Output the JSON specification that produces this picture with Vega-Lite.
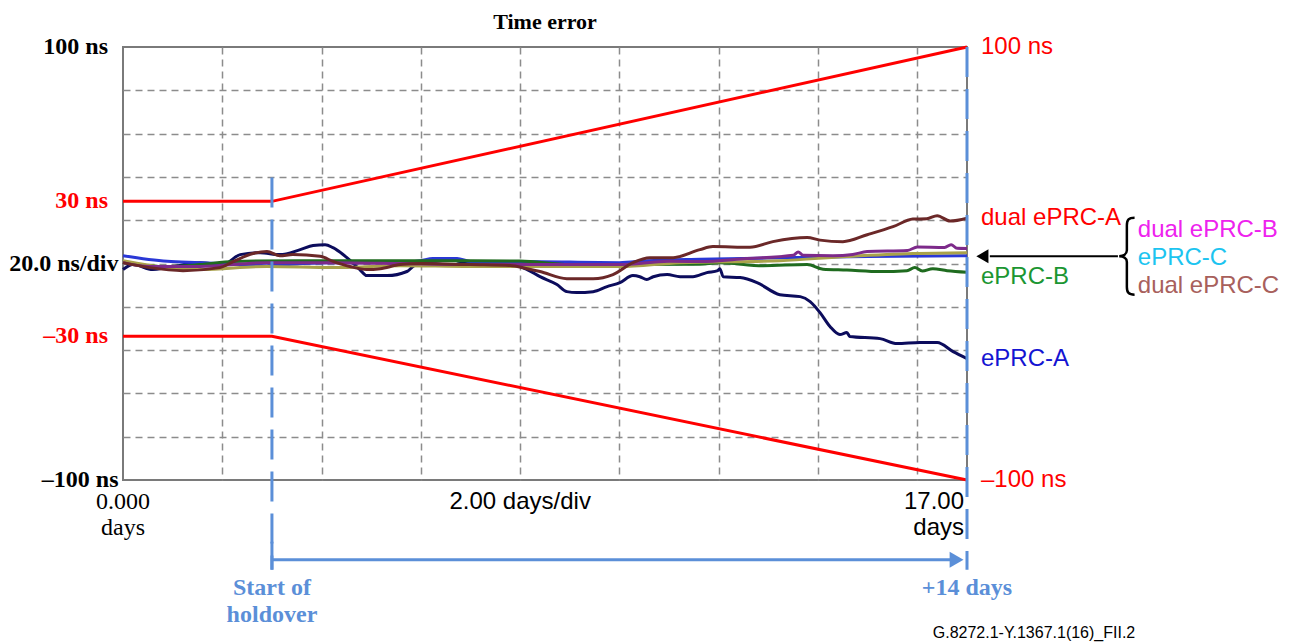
{
  "$schema": "https://vega.github.io/schema/vega-lite/v6.json",
  "width": 844,
  "height": 433,
  "autosize": {"type": "none"},
  "padding": {"left": 123, "top": 47, "right": 323, "bottom": 164},
  "background": "white",
  "title": {"text": "Time error", "font": "Liberation Serif", "fontSize": 22, "fontWeight": "bold", "color": "#000000", "offset": 1, "anchor": "middle"},
  "config": {
    "view": {"stroke": "#7a7a7a", "strokeWidth": 2},
    "text": {"font": "Liberation Sans", "fontSize": 24}
  },
  "encoding": {
    "x": {"field": "t", "type": "quantitative", "scale": {"domain": [0, 17], "nice": false, "zero": false},
      "axis": {"values": [2, 4, 6, 8, 10, 12, 14, 16], "grid": true, "labels": false, "ticks": false, "domain": false, "title": null, "gridDash": [7, 5], "gridColor": "#8c8c8c", "gridWidth": 1.5}},
    "y": {"field": "v", "type": "quantitative", "scale": {"domain": [-100, 100], "nice": false, "zero": false},
      "axis": {"values": [-80, -60, -40, -20, 0, 20, 40, 60, 80], "grid": true, "labels": false, "ticks": false, "domain": false, "title": null, "gridDash": [7, 5], "gridColor": "#8c8c8c", "gridWidth": 1.5}}
  },
  "layer": [
    {
      "data": {"values": [
        {"bound": "upper", "t": 0, "v": 28.7}, {"bound": "upper", "t": 3, "v": 28.7}, {"bound": "upper", "t": 17, "v": 100},
        {"bound": "lower", "t": 0, "v": -33.6}, {"bound": "lower", "t": 3, "v": -33.6}, {"bound": "lower", "t": 17, "v": -100}
      ]},
      "mark": {"type": "line", "color": "#ff0000", "strokeWidth": 3},
      "encoding": {"detail": {"field": "bound"}}
    },
    {
      "data": {"values": [
        {"series": "ePRC-A", "t": 0, "v": -2.8}, {"series": "ePRC-A", "t": 0.2, "v": -0.5}, {"series": "ePRC-A", "t": 0.6, "v": -2.8}, {"series": "ePRC-A", "t": 0.89, "v": -1.9}, {"series": "ePRC-A", "t": 1.55, "v": 0.3}, {"series": "ePRC-A", "t": 2.01, "v": -0.5}, {"series": "ePRC-A", "t": 2.36, "v": 4.1}, {"series": "ePRC-A", "t": 2.76, "v": 5.0}, {"series": "ePRC-A", "t": 3.16, "v": 4.1}, {"series": "ePRC-A", "t": 3.57, "v": 6.4}, {"series": "ePRC-A", "t": 3.83, "v": 8.3}, {"series": "ePRC-A", "t": 4.07, "v": 8.7}, {"series": "ePRC-A", "t": 4.23, "v": 7.3}, {"series": "ePRC-A", "t": 4.51, "v": 2.7}, {"series": "ePRC-A", "t": 4.77, "v": -2.8}, {"series": "ePRC-A", "t": 4.91, "v": -5.6}, {"series": "ePRC-A", "t": 5.32, "v": -5.6}, {"series": "ePRC-A", "t": 5.72, "v": -3.7}, {"series": "ePRC-A", "t": 5.84, "v": -1.4}, {"series": "ePRC-A", "t": 5.98, "v": 0.4}, {"series": "ePRC-A", "t": 6.39, "v": 1.3}, {"series": "ePRC-A", "t": 6.59, "v": 2.3}, {"series": "ePRC-A", "t": 6.79, "v": 0.9}, {"series": "ePRC-A", "t": 7.33, "v": 0.4}, {"series": "ePRC-A", "t": 7.86, "v": -0.5}, {"series": "ePRC-A", "t": 8.14, "v": -2.8}, {"series": "ePRC-A", "t": 8.4, "v": -6.1}, {"series": "ePRC-A", "t": 8.74, "v": -9.7}, {"series": "ePRC-A", "t": 8.94, "v": -13.0}, {"series": "ePRC-A", "t": 9.14, "v": -13.4}, {"series": "ePRC-A", "t": 9.47, "v": -13.0}, {"series": "ePRC-A", "t": 9.75, "v": -10.7}, {"series": "ePRC-A", "t": 10.01, "v": -8.8}, {"series": "ePRC-A", "t": 10.27, "v": -5.6}, {"series": "ePRC-A", "t": 10.41, "v": -6.1}, {"series": "ePRC-A", "t": 10.55, "v": -7.4}, {"series": "ePRC-A", "t": 10.68, "v": -6.1}, {"series": "ePRC-A", "t": 10.96, "v": -5.1}, {"series": "ePRC-A", "t": 11.22, "v": -6.1}, {"series": "ePRC-A", "t": 11.48, "v": -6.1}, {"series": "ePRC-A", "t": 11.76, "v": -4.2}, {"series": "ePRC-A", "t": 11.98, "v": -3.3}, {"series": "ePRC-A", "t": 12.02, "v": -2.4}, {"series": "ePRC-A", "t": 12.09, "v": -6.1}, {"series": "ePRC-A", "t": 12.43, "v": -6.5}, {"series": "ePRC-A", "t": 12.77, "v": -8.8}, {"series": "ePRC-A", "t": 13.23, "v": -14.4}, {"series": "ePRC-A", "t": 13.64, "v": -15.3}, {"series": "ePRC-A", "t": 13.84, "v": -17.6}, {"series": "ePRC-A", "t": 14.04, "v": -22.7}, {"series": "ePRC-A", "t": 14.24, "v": -29.1}, {"series": "ePRC-A", "t": 14.44, "v": -32.8}, {"series": "ePRC-A", "t": 14.58, "v": -31.9}, {"series": "ePRC-A", "t": 14.64, "v": -33.7}, {"series": "ePRC-A", "t": 15.25, "v": -34.7}, {"series": "ePRC-A", "t": 15.59, "v": -37.0}, {"series": "ePRC-A", "t": 16.05, "v": -36.5}, {"series": "ePRC-A", "t": 16.4, "v": -36.5}, {"series": "ePRC-A", "t": 16.72, "v": -40.7}, {"series": "ePRC-A", "t": 17.0, "v": -43.9},

        {"series": "ePRC-C", "t": 0, "v": 3.6}, {"series": "ePRC-C", "t": 0.89, "v": 1.0}, {"series": "ePRC-C", "t": 1.55, "v": 0.4}, {"series": "ePRC-C", "t": 2.36, "v": -0.5}, {"series": "ePRC-C", "t": 2.9, "v": -1.0}, {"series": "ePRC-C", "t": 3.5, "v": -0.2}, {"series": "ePRC-C", "t": 4.2, "v": 0.4}, {"series": "ePRC-C", "t": 5.58, "v": 0.4}, {"series": "ePRC-C", "t": 6.0, "v": 1.3}, {"series": "ePRC-C", "t": 6.24, "v": 2.3}, {"series": "ePRC-C", "t": 6.73, "v": 2.3}, {"series": "ePRC-C", "t": 7.0, "v": 0.9}, {"series": "ePRC-C", "t": 8.0, "v": 0.9}, {"series": "ePRC-C", "t": 10.0, "v": 0.4}, {"series": "ePRC-C", "t": 10.55, "v": 1.3}, {"series": "ePRC-C", "t": 11.62, "v": 2.0}, {"series": "ePRC-C", "t": 13.0, "v": 2.5}, {"series": "ePRC-C", "t": 15.0, "v": 3.2}, {"series": "ePRC-C", "t": 17.0, "v": 3.6},

        {"series": "ePRC-B", "t": 0, "v": 0.4}, {"series": "ePRC-B", "t": 0.89, "v": -1.4}, {"series": "ePRC-B", "t": 1.55, "v": -0.5}, {"series": "ePRC-B", "t": 2.22, "v": 0.9}, {"series": "ePRC-B", "t": 3.57, "v": 1.3}, {"series": "ePRC-B", "t": 5.58, "v": 1.3}, {"series": "ePRC-B", "t": 7.0, "v": 1.3}, {"series": "ePRC-B", "t": 8.0, "v": 1.1}, {"series": "ePRC-B", "t": 9.0, "v": -0.5}, {"series": "ePRC-B", "t": 10.0, "v": -0.5}, {"series": "ePRC-B", "t": 11.6, "v": -0.3}, {"series": "ePRC-B", "t": 12.02, "v": 0.4}, {"series": "ePRC-B", "t": 12.89, "v": -1.0}, {"series": "ePRC-B", "t": 13.78, "v": -0.5}, {"series": "ePRC-B", "t": 14.1, "v": -2.6}, {"series": "ePRC-B", "t": 14.58, "v": -3.0}, {"series": "ePRC-B", "t": 15.25, "v": -3.7}, {"series": "ePRC-B", "t": 15.79, "v": -3.3}, {"series": "ePRC-B", "t": 15.95, "v": -1.9}, {"series": "ePRC-B", "t": 16.1, "v": -3.5}, {"series": "ePRC-B", "t": 16.31, "v": -2.4}, {"series": "ePRC-B", "t": 16.6, "v": -3.3}, {"series": "ePRC-B", "t": 17.0, "v": -4.0},

        {"series": "dual ePRC-C", "t": 0, "v": 1.3}, {"series": "dual ePRC-C", "t": 0.89, "v": -1.9}, {"series": "dual ePRC-C", "t": 1.55, "v": -2.8}, {"series": "dual ePRC-C", "t": 2.9, "v": -1.4}, {"series": "dual ePRC-C", "t": 4.23, "v": -1.9}, {"series": "dual ePRC-C", "t": 5.58, "v": -1.0}, {"series": "dual ePRC-C", "t": 7.0, "v": -1.4}, {"series": "dual ePRC-C", "t": 8.0, "v": -1.4}, {"series": "dual ePRC-C", "t": 10.0, "v": -1.4}, {"series": "dual ePRC-C", "t": 11.22, "v": 0.4}, {"series": "dual ePRC-C", "t": 13.23, "v": 1.3}, {"series": "dual ePRC-C", "t": 14.58, "v": 3.2}, {"series": "dual ePRC-C", "t": 15.91, "v": 4.6}, {"series": "dual ePRC-C", "t": 17.0, "v": 5.0},

        {"series": "dual ePRC-B", "t": 0, "v": 0.4}, {"series": "dual ePRC-B", "t": 0.54, "v": -1.4}, {"series": "dual ePRC-B", "t": 1.55, "v": -1.4}, {"series": "dual ePRC-B", "t": 2.9, "v": 0.4}, {"series": "dual ePRC-B", "t": 4.23, "v": 0.4}, {"series": "dual ePRC-B", "t": 5.58, "v": 0.0}, {"series": "dual ePRC-B", "t": 7.0, "v": -0.5}, {"series": "dual ePRC-B", "t": 8.0, "v": -0.5}, {"series": "dual ePRC-B", "t": 10.0, "v": -0.5}, {"series": "dual ePRC-B", "t": 11.0, "v": 1.0}, {"series": "dual ePRC-B", "t": 11.62, "v": 0.9}, {"series": "dual ePRC-B", "t": 12.57, "v": 2.3}, {"series": "dual ePRC-B", "t": 13.5, "v": 3.8}, {"series": "dual ePRC-B", "t": 13.6, "v": 5.3}, {"series": "dual ePRC-B", "t": 13.7, "v": 3.8}, {"series": "dual ePRC-B", "t": 14.3, "v": 3.6}, {"series": "dual ePRC-B", "t": 14.7, "v": 4.2}, {"series": "dual ePRC-B", "t": 14.99, "v": 5.5}, {"series": "dual ePRC-B", "t": 15.8, "v": 6.0}, {"series": "dual ePRC-B", "t": 16.0, "v": 7.6}, {"series": "dual ePRC-B", "t": 16.55, "v": 7.4}, {"series": "dual ePRC-B", "t": 16.68, "v": 8.7}, {"series": "dual ePRC-B", "t": 16.8, "v": 7.0}, {"series": "dual ePRC-B", "t": 17.0, "v": 6.9},

        {"series": "dual ePRC-A", "t": 0, "v": 0.4}, {"series": "dual ePRC-A", "t": 0.54, "v": -1.9}, {"series": "dual ePRC-A", "t": 1.21, "v": -3.3}, {"series": "dual ePRC-A", "t": 1.95, "v": -1.9}, {"series": "dual ePRC-A", "t": 2.22, "v": 0.9}, {"series": "dual ePRC-A", "t": 2.62, "v": 4.6}, {"series": "dual ePRC-A", "t": 2.9, "v": 5.5}, {"series": "dual ePRC-A", "t": 3.16, "v": 3.6}, {"series": "dual ePRC-A", "t": 3.42, "v": 4.1}, {"series": "dual ePRC-A", "t": 3.97, "v": 3.3}, {"series": "dual ePRC-A", "t": 4.23, "v": 1.0}, {"series": "dual ePRC-A", "t": 4.57, "v": -1.4}, {"series": "dual ePRC-A", "t": 4.91, "v": -2.8}, {"series": "dual ePRC-A", "t": 5.18, "v": -2.4}, {"series": "dual ePRC-A", "t": 5.58, "v": -0.5}, {"series": "dual ePRC-A", "t": 6.0, "v": 0.0}, {"series": "dual ePRC-A", "t": 7.0, "v": -0.5}, {"series": "dual ePRC-A", "t": 7.8, "v": -0.9}, {"series": "dual ePRC-A", "t": 8.14, "v": -2.4}, {"series": "dual ePRC-A", "t": 8.4, "v": -3.7}, {"series": "dual ePRC-A", "t": 8.94, "v": -7.0}, {"series": "dual ePRC-A", "t": 9.47, "v": -7.0}, {"series": "dual ePRC-A", "t": 9.87, "v": -5.1}, {"series": "dual ePRC-A", "t": 10.27, "v": 0.4}, {"series": "dual ePRC-A", "t": 10.61, "v": 2.7}, {"series": "dual ePRC-A", "t": 11.08, "v": 2.7}, {"series": "dual ePRC-A", "t": 11.62, "v": 6.4}, {"series": "dual ePRC-A", "t": 11.88, "v": 7.8}, {"series": "dual ePRC-A", "t": 12.63, "v": 7.5}, {"series": "dual ePRC-A", "t": 13.09, "v": 10.1}, {"series": "dual ePRC-A", "t": 13.78, "v": 12.0}, {"series": "dual ePRC-A", "t": 14.04, "v": 10.8}, {"series": "dual ePRC-A", "t": 14.5, "v": 10.1}, {"series": "dual ePRC-A", "t": 14.99, "v": 13.3}, {"series": "dual ePRC-A", "t": 15.51, "v": 17.0}, {"series": "dual ePRC-A", "t": 15.91, "v": 20.5}, {"series": "dual ePRC-A", "t": 16.19, "v": 20.7}, {"series": "dual ePRC-A", "t": 16.4, "v": 22.1}, {"series": "dual ePRC-A", "t": 16.66, "v": 19.6}, {"series": "dual ePRC-A", "t": 17.0, "v": 20.9}
      ]},
      "mark": {"type": "line", "strokeWidth": 3, "interpolate": "monotone"},
      "encoding": {
        "color": {"field": "series", "type": "nominal", "legend": null,
          "scale": {"domain": ["ePRC-A", "ePRC-C", "ePRC-B", "dual ePRC-C", "dual ePRC-B", "dual ePRC-A"],
                    "range": ["#0c0c5c", "#2a38d6", "#1f6b1f", "#a9a24a", "#7d2a8a", "#6b2828"]}}
      }
    },
    {
      "data": {"values": [{"t": 3, "v": 39.7, "v2": -141.4}, {"t": 17, "v": 100, "v2": -141.4}]},
      "mark": {"type": "rule", "color": "#5b8fd8", "strokeWidth": 3, "strokeDash": [30, 12]},
      "encoding": {"y2": {"field": "v2"}}
    },
    {
      "data": {"values": [{"t": 3, "t2": 16.7, "v": -136.8}]},
      "mark": {"type": "rule", "color": "#5b8fd8", "strokeWidth": 3},
      "encoding": {"x2": {"field": "t2"}}
    },
    {
      "data": {"values": [{"t": 3, "v": -128.5, "v2": -141.4}]},
      "mark": {"type": "rule", "color": "#5b8fd8", "strokeWidth": 3},
      "encoding": {"y2": {"field": "v2"}}
    },
    {
      "data": {"values": [{"t": 16.79, "v": -136.8}]},
      "mark": {"type": "point", "shape": "triangle-right", "filled": true, "size": 256, "color": "#5b8fd8", "opacity": 1}
    },
    {
      "data": {"values": [{"t": 17.46, "t2": 20.04, "v": 3.3}]},
      "mark": {"type": "rule", "color": "#000000", "strokeWidth": 2},
      "encoding": {"x2": {"field": "t2"}}
    },
    {
      "data": {"values": [{"t": 17.31, "v": 3.3}]},
      "mark": {"type": "point", "shape": "triangle-left", "filled": true, "size": 196, "color": "#000000", "opacity": 1}
    },
    {
      "data": {"values": [{"t": 20.22, "v": 3.4}]},
      "mark": {"type": "point", "shape": "M0.2,-1 C0.05,-1 0,-0.95 0,-0.8 L0,-0.15 C0,-0.05 -0.1,0 -0.2,0 C-0.1,0 0,0.05 0,0.15 L0,0.8 C0,0.95 0.05,1 0.2,1", "filled": false, "size": 5929, "stroke": "#000000", "strokeWidth": 2.5, "opacity": 1}
    },
    {
      "data": {"values": [{"t": 0, "v": 100, "label": "100 ns"}]},
      "mark": {"type": "text", "font": "Liberation Serif", "fontWeight": "bold", "fontSize": 24, "align": "right", "baseline": "middle", "dx": -15, "color": "#000000"},
      "encoding": {"text": {"field": "label"}}
    },
    {
      "data": {"values": [{"t": 0, "v": 28.7, "label": "30 ns"}, {"t": 0, "v": -33.3, "label": "–30 ns"}]},
      "mark": {"type": "text", "font": "Liberation Serif", "fontWeight": "bold", "fontSize": 24, "align": "right", "baseline": "middle", "dx": -15, "color": "#ff0000"},
      "encoding": {"text": {"field": "label"}}
    },
    {
      "data": {"values": [{"t": 0, "v": 0, "label": "20.0 ns/div"}, {"t": 0, "v": -100, "label": "–100 ns"}]},
      "mark": {"type": "text", "font": "Liberation Serif", "fontWeight": "bold", "fontSize": 24, "align": "right", "baseline": "middle", "dx": -4.5, "color": "#000000"},
      "encoding": {"text": {"field": "label"}}
    },
    {
      "data": {"values": [{"t": 17, "v": 100, "label": "100 ns"}, {"t": 17, "v": 21.2, "label": "dual ePRC-A"}, {"t": 17, "v": -100, "label": "–100 ns"}]},
      "mark": {"type": "text", "font": "Liberation Sans", "fontSize": 24, "align": "left", "baseline": "middle", "dx": 14, "color": "#ff0000"},
      "encoding": {"text": {"field": "label"}}
    },
    {
      "data": {"values": [{"t": 17, "v": -6.1, "label": "ePRC-B"}]},
      "mark": {"type": "text", "font": "Liberation Sans", "fontSize": 24, "align": "left", "baseline": "middle", "dx": 14, "color": "#1b9632"},
      "encoding": {"text": {"field": "label"}}
    },
    {
      "data": {"values": [{"t": 17, "v": -44.3, "label": "ePRC-A"}]},
      "mark": {"type": "text", "font": "Liberation Sans", "fontSize": 24, "align": "left", "baseline": "middle", "dx": 14, "color": "#1414d2"},
      "encoding": {"text": {"field": "label"}}
    },
    {
      "data": {"values": [{"t": 20.44, "v": 15.7, "label": "dual ePRC-B"}]},
      "mark": {"type": "text", "font": "Liberation Sans", "fontSize": 24, "align": "left", "baseline": "middle", "color": "#ee22ee"},
      "encoding": {"text": {"field": "label"}}
    },
    {
      "data": {"values": [{"t": 20.44, "v": 2.7, "label": "ePRC-C"}]},
      "mark": {"type": "text", "font": "Liberation Sans", "fontSize": 24, "align": "left", "baseline": "middle", "color": "#1cc4f0"},
      "encoding": {"text": {"field": "label"}}
    },
    {
      "data": {"values": [{"t": 20.44, "v": -10.2, "label": "dual ePRC-C"}]},
      "mark": {"type": "text", "font": "Liberation Sans", "fontSize": 24, "align": "left", "baseline": "middle", "color": "#a8605c"},
      "encoding": {"text": {"field": "label"}}
    },
    {
      "data": {"values": [{"t": 0, "v": -100, "label": "0.000\ndays"}]},
      "mark": {"type": "text", "font": "Liberation Serif", "fontSize": 24, "align": "center", "baseline": "middle", "dy": 22, "lineBreak": "\n", "lineHeight": 26, "color": "#000000"},
      "encoding": {"text": {"field": "label"}}
    },
    {
      "data": {"values": [{"t": 8, "v": -100, "label": "2.00 days/div"}]},
      "mark": {"type": "text", "font": "Liberation Sans", "fontSize": 24, "align": "center", "baseline": "middle", "dy": 22, "color": "#000000"},
      "encoding": {"text": {"field": "label"}}
    },
    {
      "data": {"values": [{"t": 17, "v": -100, "label": "17.00\ndays"}]},
      "mark": {"type": "text", "font": "Liberation Sans", "fontSize": 24, "align": "right", "baseline": "middle", "dx": -3, "dy": 22, "lineBreak": "\n", "lineHeight": 26, "color": "#000000"},
      "encoding": {"text": {"field": "label"}}
    },
    {
      "data": {"values": [{"t": 3, "v": -100, "label": "Start of\nholdover"}]},
      "mark": {"type": "text", "font": "Liberation Serif", "fontWeight": "bold", "fontSize": 24, "align": "center", "baseline": "middle", "dy": 108, "lineBreak": "\n", "lineHeight": 27, "color": "#5b8fd8"},
      "encoding": {"text": {"field": "label"}}
    },
    {
      "data": {"values": [{"t": 17, "v": -100, "label": "+14 days"}]},
      "mark": {"type": "text", "font": "Liberation Serif", "fontWeight": "bold", "fontSize": 24, "align": "center", "baseline": "middle", "dy": 108, "color": "#5b8fd8"},
      "encoding": {"text": {"field": "label"}}
    },
    {
      "data": {"values": [{"t": 16.31, "v": -170.5, "label": "G.8272.1-Y.1367.1(16)_FII.2"}]},
      "mark": {"type": "text", "font": "Liberation Sans", "fontSize": 16, "align": "left", "baseline": "middle", "color": "#000000"},
      "encoding": {"text": {"field": "label"}}
    }
  ]
}
